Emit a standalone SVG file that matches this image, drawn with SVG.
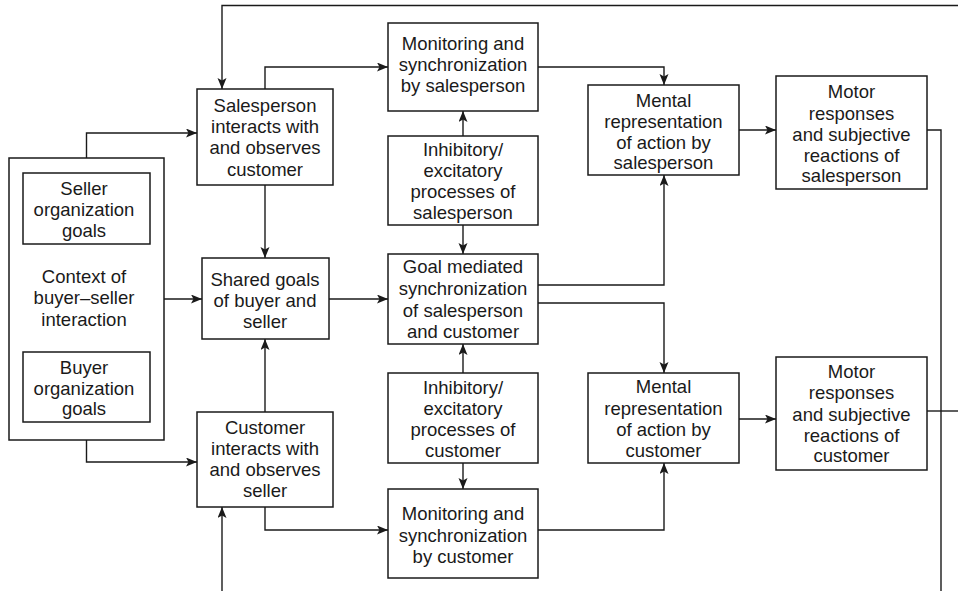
<svg xmlns="http://www.w3.org/2000/svg" width="958" height="591" viewBox="0 0 958 591">
  <defs>
    <marker id="arrow" markerUnits="userSpaceOnUse" markerWidth="12" markerHeight="10" refX="11" refY="4.5" orient="auto">
      <path d="M0,0 L11,4.5 L0,9 L2.5,4.5 Z" fill="#1a1a1a"/>
    </marker>
  </defs>
  <style>
    .box { fill: #fff; stroke: #1a1a1a; stroke-width: 1.5; }
    .lbl { font-family: "Liberation Sans", Arial, Helvetica, sans-serif; font-size: 18.5px; fill: #1a1a1a; text-anchor: middle; }
    .wire { fill: none; stroke: #1a1a1a; stroke-width: 1.4; }
    .wire.arr { marker-end: url(#arrow); }
  </style>
  <rect width="958" height="591" fill="#fff"/>

  <!-- connectors -->
  <g id="connectors">
    <path class="wire arr" d="M958,5.5 H222 V89"/>
    <path class="wire arr" d="M222,591 V507"/>
    <path class="wire" d="M927,130 H941 V591"/>
    <path class="wire" d="M927,411 H958"/>
    <path class="wire arr" d="M86.5,173 V133 H197"/>
    <path class="wire arr" d="M86.5,422 V462 H197"/>
    <path class="wire arr" d="M164,299 H202"/>
    <path class="wire arr" d="M265,185 V258"/>
    <path class="wire arr" d="M265,412 V339"/>
    <path class="wire arr" d="M265,89 V67 H388"/>
    <path class="wire arr" d="M265,507 V530 H388"/>
    <path class="wire arr" d="M329,299 H388"/>
    <path class="wire arr" d="M463,136 V111"/>
    <path class="wire arr" d="M463,225 V254"/>
    <path class="wire arr" d="M463,373 V344"/>
    <path class="wire arr" d="M463,463 V489"/>
    <path class="wire arr" d="M538,67 H664 V85"/>
    <path class="wire arr" d="M538,285 H664 V175"/>
    <path class="wire arr" d="M538,303 H664 V373"/>
    <path class="wire arr" d="M538,530 H664 V463"/>
    <path class="wire arr" d="M739,130 H776"/>
    <path class="wire arr" d="M739,419 H776"/>
  </g>

  <!-- context of interaction, with the two organisation goal boxes inside -->
  <g id="context">
    <rect class="box" x="9" y="158" width="155" height="282"/>
    <text class="lbl" x="84" y="283">Context of</text>
    <text class="lbl" x="84" y="304">buyer–seller</text>
    <text class="lbl" x="84" y="325.5">interaction</text>
  </g>
  <g id="seller-goals">
    <rect class="box" x="23" y="173" width="127" height="71"/>
    <text class="lbl" x="84" y="194.5">Seller</text>
    <text class="lbl" x="84" y="215.5">organization</text>
    <text class="lbl" x="84" y="236.5">goals</text>
  </g>
  <g id="buyer-goals">
    <rect class="box" x="23" y="352" width="127" height="70"/>
    <text class="lbl" x="84" y="373.5">Buyer</text>
    <text class="lbl" x="84" y="394.5">organization</text>
    <text class="lbl" x="84" y="415">goals</text>
  </g>

  <g id="salesperson-interacts">
    <rect class="box" x="197" y="89" width="136" height="96"/>
    <text class="lbl" x="265" y="111.5">Salesperson</text>
    <text class="lbl" x="265" y="133">interacts with</text>
    <text class="lbl" x="265" y="154">and observes</text>
    <text class="lbl" x="265" y="175.5">customer</text>
  </g>
  <g id="shared-goals">
    <rect class="box" x="202" y="258" width="127" height="81"/>
    <text class="lbl" x="265" y="285.5">Shared goals</text>
    <text class="lbl" x="265" y="306.5">of buyer and</text>
    <text class="lbl" x="265" y="328">seller</text>
  </g>
  <g id="customer-interacts">
    <rect class="box" x="197" y="412" width="136" height="95"/>
    <text class="lbl" x="265" y="433.5">Customer</text>
    <text class="lbl" x="265" y="454.5">interacts with</text>
    <text class="lbl" x="265" y="476">and observes</text>
    <text class="lbl" x="265" y="497">seller</text>
  </g>

  <g id="monitoring-salesperson">
    <rect class="box" x="388" y="23" width="150" height="88"/>
    <text class="lbl" x="463" y="49.5">Monitoring and</text>
    <text class="lbl" x="463" y="70.5">synchronization</text>
    <text class="lbl" x="463" y="91.5">by salesperson</text>
  </g>
  <g id="inhibitory-salesperson">
    <rect class="box" x="388" y="136" width="150" height="89"/>
    <text class="lbl" x="463" y="155.5">Inhibitory/</text>
    <text class="lbl" x="463" y="176.5">excitatory</text>
    <text class="lbl" x="463" y="198">processes of</text>
    <text class="lbl" x="463" y="219">salesperson</text>
  </g>
  <g id="goal-mediated">
    <rect class="box" x="388" y="254" width="150" height="90"/>
    <text class="lbl" x="463" y="273">Goal mediated</text>
    <text class="lbl" x="463" y="295">synchronization</text>
    <text class="lbl" x="463" y="316.5">of salesperson</text>
    <text class="lbl" x="463" y="337.5">and customer</text>
  </g>
  <g id="inhibitory-customer">
    <rect class="box" x="388" y="373" width="150" height="90"/>
    <text class="lbl" x="463" y="393.5">Inhibitory/</text>
    <text class="lbl" x="463" y="414.5">excitatory</text>
    <text class="lbl" x="463" y="435.5">processes of</text>
    <text class="lbl" x="463" y="456.5">customer</text>
  </g>
  <g id="monitoring-customer">
    <rect class="box" x="388" y="489" width="150" height="89"/>
    <text class="lbl" x="463" y="520">Monitoring and</text>
    <text class="lbl" x="463" y="541.5">synchronization</text>
    <text class="lbl" x="463" y="562.5">by customer</text>
  </g>

  <g id="mental-salesperson">
    <rect class="box" x="588" y="85" width="151" height="90"/>
    <text class="lbl" x="663.5" y="106.5">Mental</text>
    <text class="lbl" x="663.5" y="128">representation</text>
    <text class="lbl" x="663.5" y="149">of action by</text>
    <text class="lbl" x="663.5" y="169">salesperson</text>
  </g>
  <g id="mental-customer">
    <rect class="box" x="588" y="373" width="151" height="90"/>
    <text class="lbl" x="663.5" y="393">Mental</text>
    <text class="lbl" x="663.5" y="414.5">representation</text>
    <text class="lbl" x="663.5" y="436">of action by</text>
    <text class="lbl" x="663.5" y="457">customer</text>
  </g>

  <g id="motor-salesperson">
    <rect class="box" x="776" y="76" width="151" height="113"/>
    <text class="lbl" x="851.5" y="98">Motor</text>
    <text class="lbl" x="851.5" y="119.5">responses</text>
    <text class="lbl" x="851.5" y="140.5">and subjective</text>
    <text class="lbl" x="851.5" y="161.5">reactions of</text>
    <text class="lbl" x="851.5" y="182">salesperson</text>
  </g>
  <g id="motor-customer">
    <rect class="box" x="776" y="357" width="151" height="113"/>
    <text class="lbl" x="851.5" y="377.5">Motor</text>
    <text class="lbl" x="851.5" y="399">responses</text>
    <text class="lbl" x="851.5" y="420.5">and subjective</text>
    <text class="lbl" x="851.5" y="441.5">reactions of</text>
    <text class="lbl" x="851.5" y="462">customer</text>
  </g>
</svg>
